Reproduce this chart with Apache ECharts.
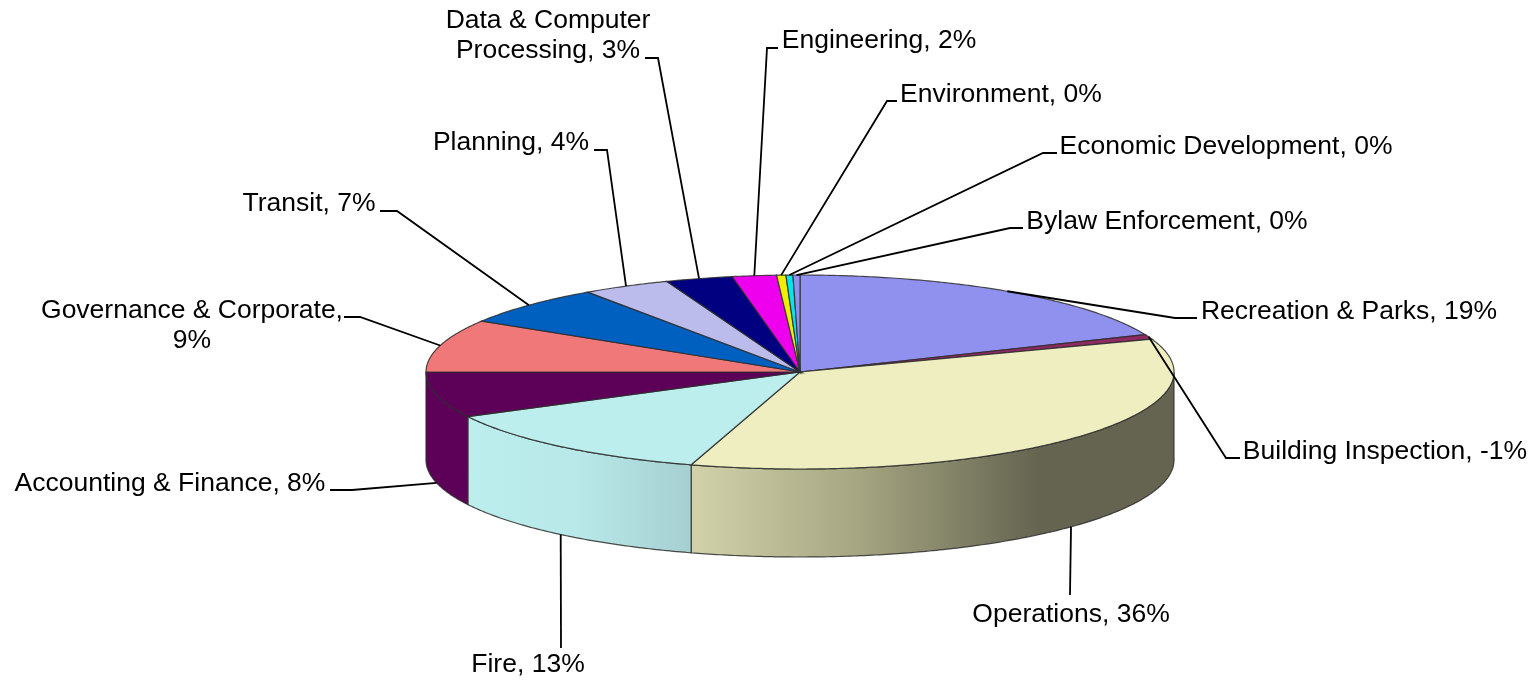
<!DOCTYPE html>
<html>
<head>
<meta charset="utf-8">
<style>html,body{margin:0;padding:0;background:#fff}#chart{width:1535px;height:680px}</style>
<script src="https://cdn.jsdelivr.net/npm/echarts@6/dist/echarts.min.js"></script>
</head>
<body>
<div id="chart"></div>
<script>
// Data (clockwise from 12 o'clock)
const categories = ['Recreation & Parks','Building Inspection','Operations','Fire','Accounting & Finance','Governance & Corporate','Transit','Planning','Data & Computer Processing','Engineering','Environment','Economic Development','Bylaw Enforcement'];
const shares = [18.7,0.8,35.2,12.7,7.6,8.8,6.6,3.8,2.9,1.9,0.4,0.3,0.3];
const percentLabels = ['19%','-1%','36%','13%','8%','9%','7%','4%','3%','2%','0%','0%','0%'];
const labelTexts = ['Recreation & Parks, 19%','Building Inspection, -1%','Operations, 36%','Fire, 13%','Accounting & Finance, 8%','Governance & Corporate,\n9%','Transit, 7%','Planning, 4%','Data & Computer\nProcessing, 3%','Engineering, 2%','Environment, 0%','Economic Development, 0%','Bylaw Enforcement, 0%'];

// Styles and layout
const topColors = ['#9090ee','#8e2a62','#eeeec0','#bceeee','#5c0058','#f07878','#0060c0','#bcbcec','#000080','#ee00ee','#eeee00','#00e6ec','#9090ee'];
const rimStops = {
  2: [[0,'#d2d2aa'],[0.35,'#a5a582'],[0.72,'#646450'],[1,'#646450']],
  3: [[0,'#bceeee'],[0.5,'#b8e8e8'],[1,'#a6cfd0']],
  4: [[0,'#5c0058'],[1,'#5c0058']]
};
const PIE = {cx:800, cy:372, rx:374, ry:97, depth:88};
const labelPos = [[1349,312],[1385,452],[1071,615],[528,665],[170,484],[192,326],[309,204],[511,143],[548,36],[879,41],[1001,95],[1226,147],[1167,222]];
const elbows = [
  [[1175,318],[1197,318]],[[1226,458],[1240,458]],[[1070,595]],[[561,648]],
  [[352,490],[330,490]],[[360,317],[344,317]],[[397,211],[380,211]],
  [[607,150],[594,150]],[[658,58],[645,58]],[[767,48],[778,48]],
  [[887,101],[897,101]],[[1043,153],[1057,153]],[[1010,228],[1023,228]]
];

const total = shares.reduce((a,b)=>a+b,0);
const starts = shares.reduce((acc,v,i)=>{acc.push(i?acc[i-1]+shares[i-1]:0);return acc;},[]);
const ang = p => p/total*2*Math.PI;
const ellipsePt = (a,dz) => [PIE.cx+PIE.rx*Math.sin(a), PIE.cy-PIE.ry*Math.cos(a)+(dz||0)];
function arc(a0,a1,dz){
  const n = Math.max(2,Math.ceil(Math.abs(a1-a0)/0.01)), pts=[];
  for(let i=0;i<=n;i++) pts.push(ellipsePt(a0+(a1-a0)*i/n,dz));
  return pts;
}
const EDGE = 'rgba(45,45,45,0.85)';

function renderTop(params,api){
  const i = params.dataIndex, a0 = ang(starts[i]), a1 = a0+ang(api.value(0));
  return {type:'polygon',shape:{points:[[PIE.cx,PIE.cy]].concat(arc(a0,a1))},
    style:{fill:topColors[i],stroke:EDGE,lineWidth:1.2}};
}
function renderRim(params,api){
  const i = params.dataIndex;
  let a0 = ang(starts[i]), a1 = a0+ang(api.value(0));
  a0 = Math.max(a0,Math.PI/2); a1 = Math.min(a1,3*Math.PI/2);
  if(a1<=a0) return null;
  const stops = rimStops[i] || [[0,topColors[i]],[1,topColors[i]]];
  return {type:'polygon',shape:{points:arc(a0,a1).concat(arc(a1,a0,PIE.depth))},
    style:{fill:{type:'linear',x:0,y:0,x2:1,y2:0,colorStops:stops.map(s=>({offset:s[0],color:s[1]}))},stroke:EDGE,lineWidth:1.2}};
}
function renderLabel(params,api){
  const i = params.dataIndex, mid = ang(starts[i]+api.value(0)/2);
  const onFront = mid>Math.PI/2 && mid<3*Math.PI/2 && i!==1;
  const anchor = ellipsePt(mid,onFront?PIE.depth:0);
  return {type:'group',children:[
    {type:'polyline',shape:{points:[anchor].concat(elbows[i])},style:{fill:null,stroke:'#000',lineWidth:1.8}},
    {type:'text',style:{text:labelTexts[i],x:labelPos[i][0],y:labelPos[i][1],align:'center',verticalAlign:'middle',
      fontFamily:'Liberation Sans, Arial, sans-serif',fontSize:26.5,lineHeight:30,fill:'#000'}}
  ]};
}
const seriesData = shares.map((v,i)=>({name:categories[i],value:[v]}));
const chart = echarts.init(document.getElementById('chart'),null,{renderer:'canvas'});
chart.setOption({
  animation:false,
  backgroundColor:'#fff',
  series:[
    {type:'custom',coordinateSystem:'none',renderItem:renderRim,data:seriesData,silent:true,z:1},
    {type:'custom',coordinateSystem:'none',renderItem:renderTop,data:seriesData,silent:true,z:2},
    {type:'custom',coordinateSystem:'none',renderItem:renderLabel,data:seriesData,silent:true,z:3}
  ]
});
</script>
</body>
</html>
